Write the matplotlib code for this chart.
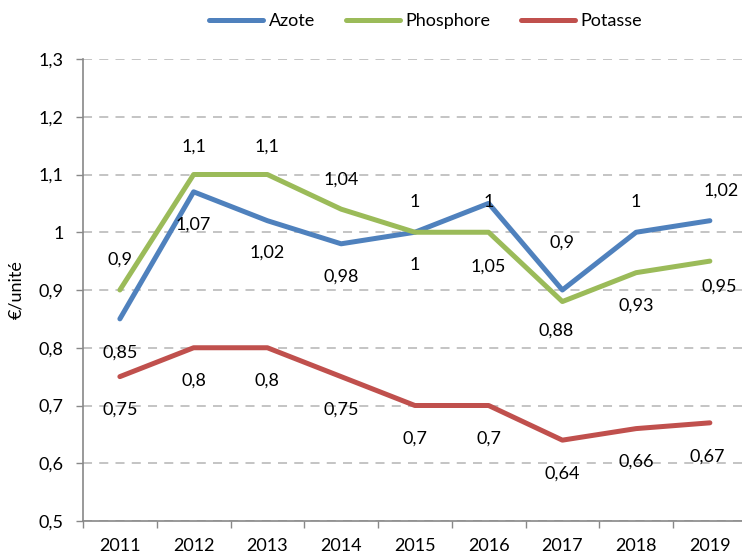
import matplotlib.pyplot as plt
import numpy as np

years = ['2011', '2012', '2013', '2014', '2015', '2016', '2017', '2018', '2019']
azote = [0.85, 1.07, 1.02, 0.98, 1.0, 1.05, 0.9, 1.0, 1.02]
phosphore = [0.9, 1.1, 1.1, 1.04, 1.0, 1.0, 0.88, 0.93, 0.95]
potasse = [0.75, 0.8, 0.8, 0.75, 0.7, 0.7, 0.64, 0.66, 0.67]

# label offsets in pixels (dx, dy), positive dy = upward
off_azote = [(0, -34), (0, -33), (0, -32), (0, -33), (0, -33), (0, -63), (0, 47), (0, 30), (11, 30)]
off_phos = [(0, 30), (0, 28), (0, 28), (0, 30), (0, 30), (0, 30), (-6, -29), (0, -33), (9, -26)]
off_pot = [(0, -33), (0, -33), (0, -33), (0, -33), (0, -33), (0, -33), (0, -33), (0, -33), (-3, -34)]

plt.rcParams['font.family'] = ['Lato', 'DejaVu Sans']
FS = 13

W, H = 742, 557
fig = plt.figure(figsize=(W / 100, H / 100), dpi=100)
ax = fig.add_axes([83 / W, 36 / H, (746.75 - 83) / W, (521 - 59) / H])

x = np.arange(len(years))
series = [
    ('Azote', azote, '#4F81BD', off_azote),
    ('Phosphore', phosphore, '#9BBB59', off_phos),
    ('Potasse', potasse, '#C0504D', off_pot),
]

def fmt(v):
    s = ('%.2f' % v).rstrip('0').rstrip('.')
    return s.replace('.', ',')

for name, vals, col, offs in series:
    ax.plot(x, vals, color=col, lw=3.6, label=name, solid_capstyle='round', zorder=3)
    for xi, v, (dx, dy) in zip(x, vals, offs):
        ax.annotate(fmt(v), (xi, v), xytext=(dx, dy), textcoords='offset pixels',
                    ha='center', va='center', fontsize=FS, color='black', zorder=4)

ax.set_xlim(-0.5, 8.5)
ax.set_ylim(0.5, 1.3)
yt = np.arange(0.5, 1.31, 0.1)
ax.set_yticks(yt)
ax.set_yticklabels([fmt(round(t, 1)) for t in yt], fontsize=FS)
ax.set_xticks(x)
ax.set_xticklabels(years, fontsize=FS)
ax.set_xticks(np.arange(-0.5, 9, 1), minor=True)
ax.tick_params(axis='x', which='major', length=0, pad=12)
ax.tick_params(axis='x', which='minor', length=5, color='#888888', width=1)
ax.tick_params(axis='y', length=5, color='#888888', width=1, pad=9)

ax.grid(axis='y', color='#BFBFBF', lw=1.3, ls=(0, (5, 4)))
ax.set_axisbelow(True)
for s in ['top', 'right']:
    ax.spines[s].set_visible(False)
for s in ['left', 'bottom']:
    ax.spines[s].set_color('#888888')
    ax.spines[s].set_linewidth(1.2)

ax.set_ylabel('€/unité', fontsize=FS)
ax.yaxis.set_label_coords(-0.088, 0.5)

fig.legend(loc='center', bbox_to_anchor=(425.5 / W, 1 - 21 / H), ncol=3, frameon=False,
           handlelength=3.0, handletextpad=0.3, columnspacing=1.7, fontsize=FS)

fig.savefig('out.png', dpi=100)
